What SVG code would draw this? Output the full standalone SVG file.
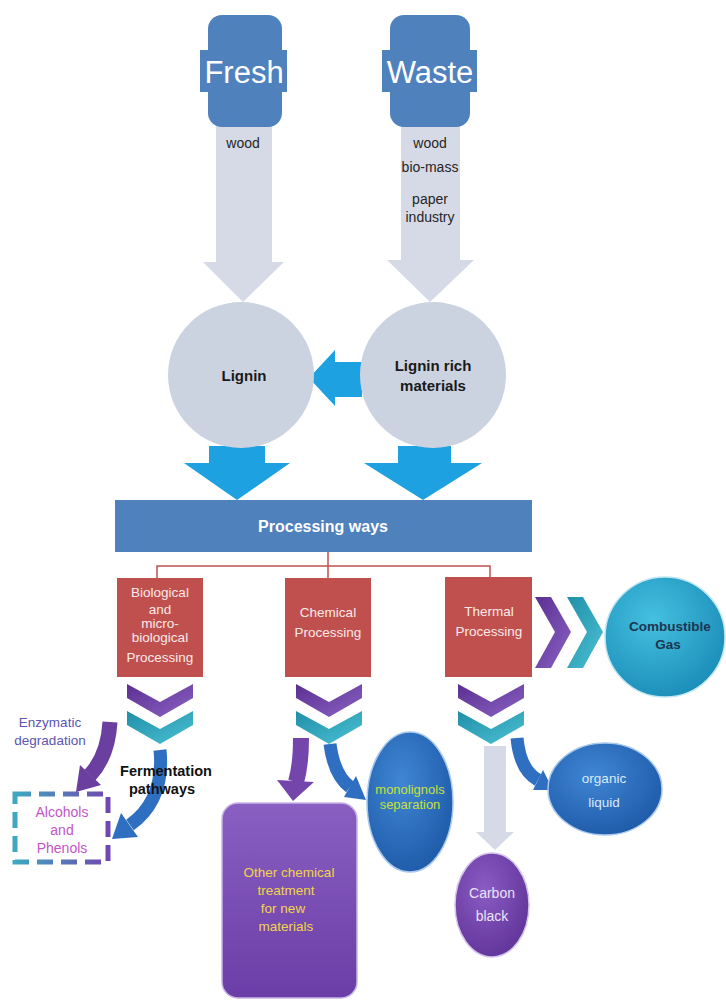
<svg xmlns="http://www.w3.org/2000/svg" width="726" height="1001" viewBox="0 0 726 1001">
<style>
text{font-family:"Liberation Sans",Arial,sans-serif;text-anchor:middle}
.src{fill:#4f81bd}
.srct{fill:#ffffff;font-size:31px}
.lbl{fill:#262626;font-size:14px}
.grey{fill:#d6dae7}
.circ{fill:#ccd3e0}
.bold{font-weight:bold;fill:#1a1a1a;font-size:15px}
.cyan{fill:#1ea1e1}
.red{fill:#c0504d}
.redt{fill:#fbeaea;font-size:13.5px}
.line{stroke:#c0504d;stroke-width:1.5;fill:none}
.pch{fill:url(#gPurp)}
.tch{fill:url(#gTeal)}
.parr{fill:none;stroke:#6b3fa0;stroke-width:15}
.barr{fill:none;stroke:#2f6fc2;stroke-width:13}
</style>
<defs>
<linearGradient id="gPurp" x1="0" y1="0" x2="1" y2="1"><stop offset="0" stop-color="#5b2f92"/><stop offset="1" stop-color="#8a63c4"/></linearGradient>
<linearGradient id="gTeal" x1="0" y1="0" x2="1" y2="1"><stop offset="0" stop-color="#1f8fa8"/><stop offset="1" stop-color="#4cc1d4"/></linearGradient>
<radialGradient id="gBlue" cx="0.4" cy="0.35" r="0.7"><stop offset="0" stop-color="#3f86d4"/><stop offset="1" stop-color="#1e5aa8"/></radialGradient>
<radialGradient id="gGas" cx="0.4" cy="0.35" r="0.7"><stop offset="0" stop-color="#45c0e0"/><stop offset="1" stop-color="#1a8cb8"/></radialGradient>
<radialGradient id="gPur" cx="0.4" cy="0.35" r="0.75"><stop offset="0" stop-color="#8a5cc4"/><stop offset="1" stop-color="#5e3196"/></radialGradient>
<linearGradient id="gBox" x1="0" y1="0" x2="0" y2="1"><stop offset="0" stop-color="#8a5fc2"/><stop offset="1" stop-color="#6a3ea6"/></linearGradient>
<linearGradient id="gDash" x1="0" y1="0" x2="1" y2="0"><stop offset="0" stop-color="#3fa8c0"/><stop offset="1" stop-color="#7048b0"/></linearGradient>
</defs>
<rect width="726" height="1001" fill="#ffffff"/>

<g id="connectors">
  <!-- grey source arrows -->
  <polygon class="grey" points="216,125 272,125 272,262 284,262 243,302 203,262 216,262"/>
  <polygon class="grey" points="401,125 460,125 460,260 474,260 430,302 387,260 401,260"/>
  <text class="lbl" x="243" y="148">wood</text>
  <text class="lbl" x="430" y="148">wood</text>
  <text class="lbl" x="430" y="172">bio-mass</text>
  <text class="lbl" x="430" y="204">paper</text>
  <text class="lbl" x="430" y="222">industry</text>
  <!-- cyan arrows -->
  <polygon class="cyan" points="362,362 335,362 335,350 309,378 335,406 335,397 362,397"/>
  <polygon class="cyan" points="209,446 265,446 265,463 290,463 237,500 184,463 209,463"/>
  <polygon class="cyan" points="398,446 451,446 451,463 482,463 423,500 364,463 398,463"/>
  <!-- red tree -->
  <path class="line" d="M328,552 V578 M157,578 V566 H490 V578"/>
  <!-- chevrons down -->
  <polygon class="pch" points="127,684 160,702 193,684 193,698 160,717 127,698"/>
  <polygon class="tch" points="127,711 160,729 193,711 193,725 160,744 127,725"/>
  <polygon class="pch" points="296,684 329,702 362,684 362,698 329,717 296,698"/>
  <polygon class="tch" points="296,711 329,729 362,711 362,725 329,744 296,725"/>
  <polygon class="pch" points="458,684 491,702 524,684 524,698 491,717 458,698"/>
  <polygon class="tch" points="458,711 491,729 524,711 524,725 491,744 458,725"/>
  <!-- chevrons right -->
  <polygon class="pch" points="535,597 551,597 571,632 551,668 535,668 555,632"/>
  <polygon class="tch" points="567,597 583,597 603,632 583,668 567,668 587,632"/>
  <!-- biological branch arrows -->
  <path class="parr" d="M110,722 Q108,756 90,775"/>
  <polygon fill="#6b3fa0" points="80,765 101,785 76,792"/>
  <path class="barr" d="M160,750 Q165,800 130,825"/>
  <polygon fill="#2f6fc2" points="121,813 138,837 112,839"/>
  <!-- chemical branch arrows -->
  <path fill="none" stroke="#7446ac" stroke-width="16" d="M301,738 Q301,765 296,782"/>
  <polygon fill="#7446ac" points="277,780 314,782 293,801"/>
  <path class="barr" stroke-width="11" d="M330,744 Q334,775 350,787"/>
  <polygon fill="#2f6fc2" points="356,776 344,797 366,800"/>
  <!-- thermal branch arrows -->
  <polygon class="grey" points="484,746 506,746 506,832 514,832 495,850 476,832 484,832"/>
  <path class="barr" stroke-width="11" d="M517,738 Q520,770 538,780"/>
  <polygon fill="#2f6fc2" points="543,770 533,790 553,790"/>
  <!-- branch labels -->
  <text x="50" y="727" fill="#5a55b0" font-size="13.5">Enzymatic</text>
  <text x="50" y="745" fill="#5a55b0" font-size="13.5">degradation</text>
  <text x="166" y="776" fill="#111111" font-size="14.5" font-weight="bold">Fermentation</text>
  <text x="162" y="794" fill="#111111" font-size="14.5" font-weight="bold">pathways</text>
</g>

<g id="fresh">
  <rect class="src" x="208" y="15" width="74" height="112" rx="14"/>
  <rect class="src" x="200" y="50" width="87" height="42"/>
  <text class="srct" x="244" y="83">Fresh</text>
</g>
<g id="waste">
  <rect class="src" x="390" y="15" width="80" height="112" rx="14"/>
  <rect class="src" x="382" y="50" width="95" height="42"/>
  <text class="srct" x="430" y="83">Waste</text>
</g>
<g id="lignin">
  <circle class="circ" cx="241" cy="375" r="73"/>
  <text class="bold" x="244" y="381">Lignin</text>
</g>
<g id="lignin-rich">
  <circle class="circ" cx="433" cy="375" r="73"/>
  <text class="bold" x="433" y="371">Lignin rich</text>
  <text class="bold" x="433" y="391">materials</text>
</g>
<g id="processing">
  <rect class="src" x="115" y="500" width="417" height="52"/>
  <text x="323" y="532" fill="#ffffff" font-size="16" font-weight="bold">Processing ways</text>
</g>
<g id="biological">
  <rect class="red" x="117" y="578" width="86" height="99"/>
  <text class="redt" x="160" y="597">Biological</text>
  <text class="redt" x="160" y="614">and</text>
  <text class="redt" x="160" y="628">micro-</text>
  <text class="redt" x="160" y="642">biological</text>
  <text class="redt" x="160" y="662">Processing</text>
</g>
<g id="chemical">
  <rect class="red" x="285" y="578" width="86" height="99"/>
  <text class="redt" x="328" y="617">Chemical</text>
  <text class="redt" x="328" y="637">Processing</text>
</g>
<g id="thermal">
  <rect class="red" x="445" y="577" width="87" height="100"/>
  <text class="redt" x="489" y="616">Thermal</text>
  <text class="redt" x="489" y="636">Processing</text>
</g>
<g id="gas">
  <circle cx="665" cy="637" r="60" fill="url(#gGas)" stroke="#bfe6f2" stroke-width="1.5"/>
  <text x="670" y="631" fill="#1d3550" font-size="13.5" font-weight="bold">Combustible</text>
  <text x="668" y="649" fill="#1d3550" font-size="13.5" font-weight="bold">Gas</text>
</g>
<g id="alcohols">
  <rect x="15" y="794" width="93" height="68" fill="#ffffff" stroke="url(#gDash)" stroke-width="5" stroke-dasharray="16 8"/>
  <text x="62" y="817" fill="#c455c8" font-size="14">Alcohols</text>
  <text x="62" y="835" fill="#c455c8" font-size="14">and</text>
  <text x="62" y="853" fill="#c455c8" font-size="14">Phenols</text>
</g>
<g id="other-chemical">
  <rect x="222" y="803" width="135" height="195" rx="16" fill="url(#gBox)" stroke="#c9b4e6" stroke-width="1.5"/>
  <text x="289" y="877" fill="#f2d54a" font-size="13.5">Other chemical</text>
  <text x="286" y="895" fill="#f2d54a" font-size="13.5">treatment</text>
  <text x="283" y="913" fill="#f2d54a" font-size="13.5">for new</text>
  <text x="286" y="931" fill="#f2d54a" font-size="13.5">materials</text>
</g>
<g id="monolignols">
  <ellipse cx="410" cy="802" rx="43" ry="70" fill="url(#gBlue)" stroke="#a9c8ee" stroke-width="1.5"/>
  <text x="410" y="794" fill="#c8e03c" font-size="13">monolignols</text>
  <text x="410" y="809" fill="#c8e03c" font-size="13">separation</text>
</g>
<g id="organic-liquid">
  <ellipse cx="605" cy="789" rx="57" ry="46" fill="url(#gBlue)" stroke="#a9c8ee" stroke-width="1.5"/>
  <text x="604" y="783" fill="#dce9f8" font-size="13.5">organic</text>
  <text x="604" y="807" fill="#dce9f8" font-size="13.5">liquid</text>
</g>
<g id="carbon-black">
  <ellipse cx="492" cy="905" rx="37" ry="52" fill="url(#gPur)" stroke="#d2c4ea" stroke-width="1.5"/>
  <text x="492" y="898" fill="#ece2f7" font-size="14">Carbon</text>
  <text x="492" y="921" fill="#ece2f7" font-size="14">black</text>
</g>
</svg>
